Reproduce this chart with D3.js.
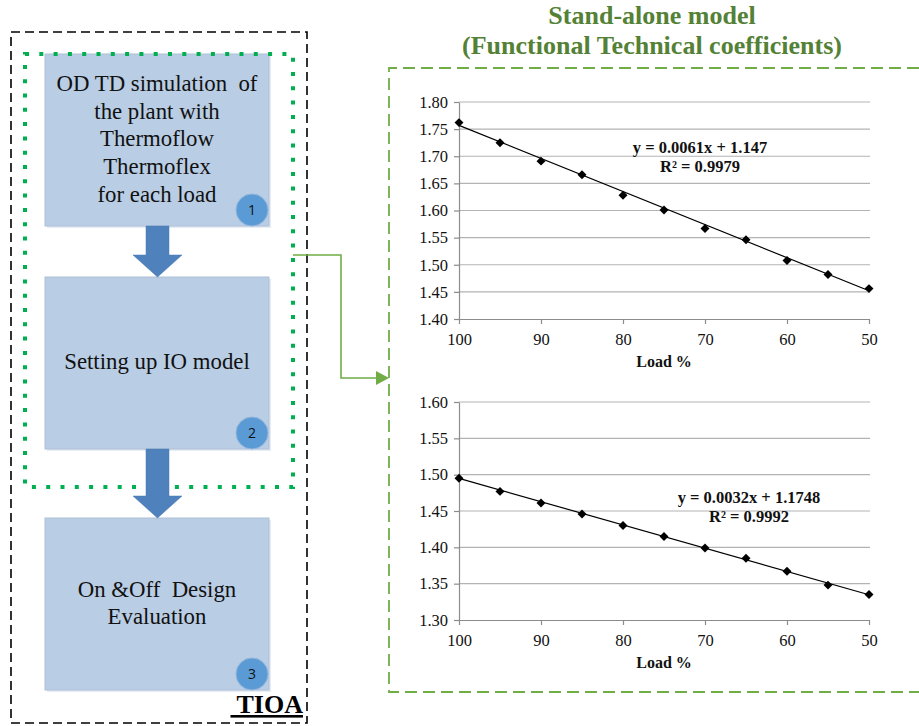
<!DOCTYPE html>
<html><head><meta charset="utf-8">
<script src="https://cdn.jsdelivr.net/npm/d3@7"></script>
<style>body{margin:0;background:#fff}svg{display:block}</style>
</head><body>
<script>
// ---- data ----
const loads = [100, 95, 90, 85, 80, 75, 70, 65, 60, 55, 50];
const coefA = [1.762, 1.725, 1.691, 1.666, 1.628, 1.601, 1.567, 1.546, 1.508, 1.482, 1.456];
const coefB = [1.495, 1.477, 1.461, 1.446, 1.430, 1.415, 1.399, 1.385, 1.367, 1.348, 1.335];
const trendA = [0.0061, 1.147];
const trendB = [0.0032, 1.1748];
const eqA = ["y = 0.0061x + 1.147", "R² = 0.9979"];
const eqB = ["y = 0.0032x + 1.1748", "R² = 0.9992"];
const yTicksA = [1.40, 1.45, 1.50, 1.55, 1.60, 1.65, 1.70, 1.75, 1.80];
const yTicksB = [1.30, 1.35, 1.40, 1.45, 1.50, 1.55, 1.60];
const xTicks = [100, 90, 80, 70, 60, 50];
const steps = [["OD TD simulation  of", "the plant with", "Thermoflow", "Thermoflex", "for each load"], ["Setting up IO model"], ["On &Off  Design", "Evaluation"]];
const stepNums = ["1", "2", "3"];
const titleLines = ["Stand-alone model", "(Functional Technical coefficients)"];

const SERIF = "'Liberation Serif','Times New Roman',serif";
const svg = d3.select("body").append("svg").attr("width", 919).attr("height", 726);

// ---- left flow diagram ----
svg.append("rect").attr("x", 11).attr("y", 32).attr("width", 296).attr("height", 691)
  .attr("fill", "none").attr("stroke", "#000").attr("stroke-width", 1.6).attr("stroke-dasharray", "9,5");

const boxes = [{y: 54, h: 172}, {y: 277, h: 172}, {y: 518, h: 172}];
const textY = [[86, 114, 141, 169, 197], [364], [592, 619]];
boxes.forEach((b, i) => {
  svg.append("rect").attr("x", 47).attr("y", b.y + 2).attr("width", 224).attr("height", b.h)
    .attr("fill", "#e6ecf4");
  svg.append("rect").attr("x", 45).attr("y", b.y).attr("width", 224).attr("height", b.h)
    .attr("fill", "#b9cde5").attr("stroke", "#aebfd6").attr("stroke-width", 1);
  steps[i].forEach((t, j) => {
    svg.append("text").attr("x", 157).attr("y", textY[i][j]).attr("text-anchor", "middle")
      .attr("dominant-baseline", "middle").style("font-family", SERIF).style("font-size", "22.8px")
      .attr("fill", "#111").style("white-space", "pre").text(t);
  });
  const cy = b.y + b.h - 16;
  svg.append("circle").attr("cx", 252).attr("cy", cy).attr("r", 16).attr("fill", "#5b9bd5").attr("stroke", "#8fb4dc").attr("stroke-width", 1);
  svg.append("text").attr("x", 252).attr("y", cy + 1).attr("text-anchor", "middle").attr("dominant-baseline", "middle")
    .style("font-family", "'Open Sans',sans-serif").style("font-size", "14px").attr("fill", "#111").text(stepNums[i]);
});

// arrows
function downArrow(y0, y1, yTip) {
  const p = `M146,${y0} L169,${y0} L169,${y1} L182,${y1} L157.5,${yTip} L133,${y1} L146,${y1} Z`;
  svg.append("path").attr("d", p).attr("fill", "#4f81bd").attr("stroke", "#4a78b0").attr("stroke-width", 0.5);
}
downArrow(226, 255, 277);

// green dotted box
svg.append("rect").attr("x", 25).attr("y", 54).attr("width", 268).attr("height", 433)
  .attr("fill", "none").attr("stroke", "#00b050").attr("stroke-width", 4).attr("stroke-dasharray", "4,10.3");
downArrow(449, 496, 518);

// TIOA
svg.append("text").attr("x", 303).attr("y", 713).attr("text-anchor", "end")
  .style("font-family", SERIF).style("font-size", "26px").style("font-weight", "bold")
  .attr("text-decoration", "underline").style("white-space", "pre").attr("fill", "#000").text(" TIOA");

// green connector
svg.append("path").attr("d", "M293,255 L341,255 L341,378 L378,378").attr("fill", "none").attr("stroke", "#70ad47").attr("stroke-width", 1.6);
svg.append("path").attr("d", "M376,371 L389,378 L376,385 Z").attr("fill", "#70ad47");

// green dashed panel
svg.append("path").attr("d", "M919,68 L389,68 L389,692 L919,692").attr("fill", "none")
  .attr("stroke", "#70ad47").attr("stroke-width", 1.8).attr("stroke-dasharray", "12,6");

// title
titleLines.forEach((t, i) => {
  svg.append("text").attr("x", 652).attr("y", 18 + i * 30).attr("text-anchor", "middle").attr("dominant-baseline", "middle")
    .style("font-family", SERIF).style("font-size", "26px").style("font-weight", "bold").attr("fill", "#538135").text(t);
});

// ---- charts ----
function chart(cfg) {
  const x = d3.scaleLinear().domain([100, 50]).range([459, 869]);
  const y = d3.scaleLinear().domain(cfg.domain).range([cfg.bottom, cfg.top]);
  const g = svg.append("g");
  g.selectAll(".grid").data(cfg.yTicks.slice(1)).join("line")
    .attr("x1", 459).attr("x2", 870).attr("y1", d => y(d)).attr("y2", d => y(d))
    .attr("stroke", "#b3b3b3").attr("stroke-width", 1.2);
  const ya = g.append("g").attr("transform", "translate(459,0)")
    .call(d3.axisLeft(y).tickValues(cfg.yTicks).tickFormat(d3.format(".2f")).tickSizeInner(5).tickSizeOuter(0).tickPadding(6));
  ya.select(".domain").attr("stroke", "#8c8c8c").attr("stroke-width", 1.2);
  ya.selectAll(".tick line").attr("stroke", "#8c8c8c").attr("stroke-width", 1.2);
  ya.selectAll("text").style("font-family", SERIF).style("font-size", "16.5px").attr("fill", "#111");
  const xa = g.append("g").attr("transform", `translate(0,${cfg.bottom})`)
    .call(d3.axisBottom(x).tickValues(xTicks).tickFormat(d3.format("d")).tickSizeInner(5).tickSizeOuter(0).tickPadding(9));
  xa.select(".domain").attr("stroke", "#8c8c8c").attr("stroke-width", 1.2);
  xa.selectAll(".tick line").attr("stroke", "#8c8c8c").attr("stroke-width", 1.2);
  xa.selectAll("text").style("font-family", SERIF).style("font-size", "16.5px").attr("fill", "#111");
  g.append("text").attr("x", 664).attr("y", cfg.bottom + 44).attr("text-anchor", "middle").attr("dominant-baseline", "middle")
    .style("font-family", SERIF).style("font-size", "16px").style("font-weight", "bold").attr("fill", "#111").text("Load %");
  const tl = d3.line().x(d => x(d)).y(d => y(cfg.trend[0] * d + cfg.trend[1]));
  g.append("path").attr("d", tl([100, 50])).attr("stroke", "#000").attr("stroke-width", 1.2).attr("fill", "none");
  g.selectAll(".pt").data(loads).join("path")
    .attr("transform", (d, i) => `translate(${x(d)},${y(cfg.values[i])}) rotate(45)`)
    .attr("d", d3.symbol(d3.symbolSquare, 40)).attr("fill", "#000");
  cfg.eq.forEach((t, i) => {
    g.append("text").attr("x", cfg.eqX).attr("y", cfg.eqY + i * 19).attr("text-anchor", "middle").attr("dominant-baseline", "middle")
      .style("font-family", SERIF).style("font-size", "16.5px").style("font-weight", "bold").attr("fill", "#111").text(t);
  });
}
chart({values: coefA, trend: trendA, eq: eqA, domain: [1.40, 1.80], yTicks: yTicksA, top: 102, bottom: 319, eqX: 700, eqY: 149});
chart({values: coefB, trend: trendB, eq: eqB, domain: [1.30, 1.60], yTicks: yTicksB, top: 402, bottom: 620, eqX: 749, eqY: 499});
</script>
</body></html>
